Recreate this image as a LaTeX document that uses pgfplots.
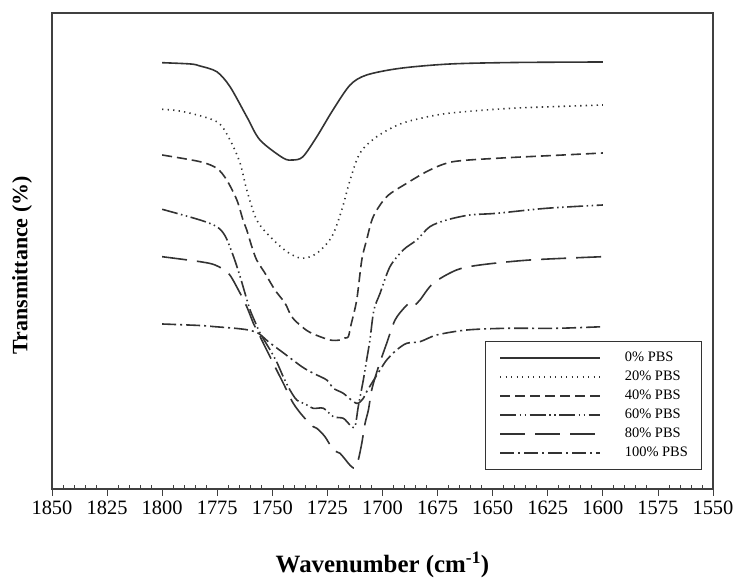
\documentclass[border=0pt]{standalone}
\usepackage{fontspec}
\setmainfont{Liberation Serif}
\usepackage{pgfplots}
\pgfplotsset{compat=1.18}
\begin{document}
\begin{tikzpicture}
\useasboundingbox (-52bp,-92bp) rectangle (682bp,489bp);
\begin{axis}[
 at={(0,0)}, anchor=south west,
 scale only axis, width=661bp, height=476bp,
 x dir=reverse, xmin=1550, xmax=1850, ymin=1, ymax=477,
 xtick={1550,1575,...,1850}, minor x tick num=4,
 ytick=\empty,
 xtick pos=left,
 tick align=inside,
 major tick length=-7bp, minor tick length=4bp,
 axis line style={black!75, line width=1.2bp},
 tick style={black!75, line width=0.8bp},
 /pgf/number format/assume math mode=true,
 /pgf/number format/1000 sep={},
 xticklabel style={font=\fontsize{20.5}{22}\selectfont, yshift=-8bp},
 xlabel={\textbf{Wavenumber (cm\textsuperscript{-1})}},
 ylabel={\textbf{Transmittance (\%)}},
 every axis x label/.style={at={(axis description cs:0.5,0)}, anchor=center, yshift=-76bp, font=\fontsize{25}{27}\selectfont},
 every axis y label/.style={at={(axis description cs:-0.0454,0.47)}, anchor=center, rotate=90, font=\fontsize{22}{24}\selectfont},
 legend style={at={(0.984,0.04)}, anchor=south east, draw=black!80, line width=1bp,
   font=\fontsize{14.5}{15}\selectfont, cells={anchor=west}, inner xsep=14bp, inner ysep=10bp,
   row sep=6bp, nodes={inner sep=0bp, text height=10bp, text depth=3bp},
   /tikz/every odd column/.append style={column sep=24bp}},
 legend image code/.code={\draw[#1] (0bp,0bp) -- (100bp,0bp);},
 every axis plot/.append style={black!80, line width=1.6bp, smooth, tension=0.5},
]
% 0% PBS
\addplot[solid] coordinates {(1800,427.3) (1787,426) (1782.8,424) (1775.2,418.3) (1769.2,403.3) (1761.6,373.3) (1755.6,350) (1745.1,332) (1740.6,330) (1736.1,333.3) (1729.8,353.3) (1722.5,380) (1714.7,405) (1707.2,415) (1692,421.7) (1669.4,426) (1640,427.5) (1600,428)};
\addlegendentry{0\% PBS}
% 20% PBS
\addplot[dash pattern=on 1.3bp off 4.2bp] coordinates {(1800,380.7) (1790.3,378.3) (1775.2,368.3) (1769.2,350) (1764.6,326.7) (1761.6,300) (1757.1,270) (1751,253.3) (1743.4,238.3) (1736.6,231.7) (1729.8,236.7) (1723,253.3) (1718.5,280) (1714.7,310) (1710.2,337) (1702.6,353.3) (1692,366) (1680,373) (1669,377) (1650,380.5) (1633,382.5) (1600,385)};
\addlegendentry{20\% PBS}
% 40% PBS
\addplot[dash pattern=on 10bp off 5bp] coordinates {(1800,335) (1782.8,328.3) (1775.2,321.7) (1770.7,310) (1766.1,290) (1763.3,270) (1761.6,260) (1759.3,243.3) (1757.1,230) (1753.3,216.7) (1748.8,200) (1744.2,186.7) (1741.2,173.3) (1736.6,163.3) (1732.1,156.7) (1723.8,150) (1719.3,150) (1717,152) (1715.5,153.3) (1714.3,165) (1711.7,190) (1709.4,230) (1707.2,250) (1704.2,273.3) (1698.1,293.3) (1689,306.7) (1678.5,320) (1668,328.3) (1648.2,331.7) (1618.1,335) (1600,337)};
\addlegendentry{40\% PBS}
% 60% PBS
\addplot[dash pattern=on 16bp off 3.5bp on 1.5bp off 3.5bp on 1.5bp off 3.5bp] coordinates {(1800,280.7) (1782.8,270) (1775.2,263.3) (1771.4,254) (1767.7,234) (1764.6,213.3) (1762.4,196.7) (1760.1,180) (1757.8,168) (1755.6,157) (1751,140) (1748,128) (1745,113) (1742,100) (1738.9,90) (1735.1,86) (1731.4,81.7) (1726.8,81.7) (1722.3,73.3) (1717.8,71.7) (1714.7,65) (1712.5,63.3) (1711,83.3) (1708.7,110) (1707.2,130) (1705.7,150) (1703.9,180) (1701.1,196.7) (1696.6,223.3) (1690.6,240) (1684.5,250) (1678.5,263.3) (1670.9,270) (1660.4,275) (1648.2,276.7) (1625.6,281.7) (1600,285)};
\addlegendentry{60\% PBS}
% 80% PBS
\addplot[dash pattern=on 25bp off 10bp] coordinates {(1800,233.3) (1782.8,228.3) (1776,225) (1769.9,216.7) (1765.4,200) (1761.6,183.3) (1758.6,166.7) (1756.3,156.7) (1753.3,143.3) (1750.3,130) (1747.3,116.7) (1745,106.7) (1740.5,86.7) (1735.9,73.3) (1731.4,63.3) (1729.8,61.7) (1726.1,53.3) (1722.3,40) (1719.3,36.7) (1715.5,26.7) (1714,23.3) (1712.5,22) (1711,30) (1709.4,46.7) (1707.9,66.7) (1706.4,80) (1704.9,100) (1703,115) (1701.1,128) (1698.1,146.7) (1694.3,170) (1689.8,183) (1687.5,187) (1686,184) (1683,190) (1677,206.7) (1666.4,220) (1655.8,225) (1633.1,230) (1600,233.3)};
\addlegendentry{80\% PBS}
% 100% PBS
\addplot[dash pattern=on 14bp off 4bp on 2bp off 4bp] coordinates {(1800,166) (1782.8,164.5) (1776,163.3) (1766.9,161.7) (1760.9,160) (1756.3,156.7) (1751.8,148.3) (1745.7,138.3) (1736.6,123.3) (1731.4,116.7) (1725.3,110) (1722.3,101.7) (1717.8,96.7) (1713.2,88.3) (1711,86.7) (1708.7,91.7) (1707.2,98.3) (1704.9,106.7) (1701.1,120) (1698.1,130) (1693.6,140) (1689,146.7) (1683,148.3) (1675.4,155) (1661.8,160) (1643.7,161.7) (1621,161.7) (1600,163.3)};
\addlegendentry{100\% PBS}
\end{axis}
\end{tikzpicture}
\end{document}
